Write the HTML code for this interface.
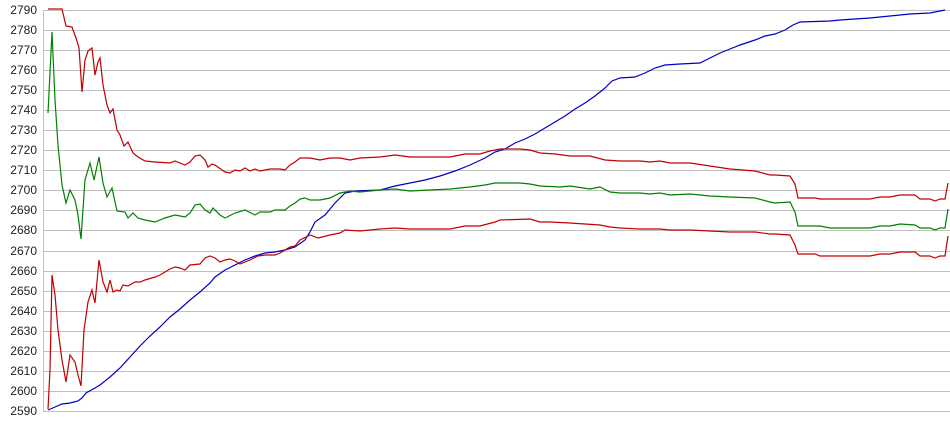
<!DOCTYPE html>
<html><head><style>body{margin:0;background:#fff}svg{display:block}</style></head><body>
<svg width="950" height="435" xmlns="http://www.w3.org/2000/svg" font-family="Liberation Sans, sans-serif" font-size="12">
<g stroke="#c0c0c0" stroke-width="1">
<line x1="43" y1="10.5" x2="950" y2="10.5"/><line x1="43" y1="30.5" x2="950" y2="30.5"/><line x1="43" y1="50.5" x2="950" y2="50.5"/><line x1="43" y1="70.5" x2="950" y2="70.5"/><line x1="43" y1="90.5" x2="950" y2="90.5"/><line x1="43" y1="110.5" x2="950" y2="110.5"/><line x1="43" y1="130.5" x2="950" y2="130.5"/><line x1="43" y1="150.5" x2="950" y2="150.5"/><line x1="43" y1="170.5" x2="950" y2="170.5"/><line x1="43" y1="190.5" x2="950" y2="190.5"/><line x1="43" y1="210.5" x2="950" y2="210.5"/><line x1="43" y1="230.5" x2="950" y2="230.5"/><line x1="43" y1="251.5" x2="950" y2="251.5"/><line x1="43" y1="271.5" x2="950" y2="271.5"/><line x1="43" y1="291.5" x2="950" y2="291.5"/><line x1="43" y1="311.5" x2="950" y2="311.5"/><line x1="43" y1="331.5" x2="950" y2="331.5"/><line x1="43" y1="351.5" x2="950" y2="351.5"/><line x1="43" y1="371.5" x2="950" y2="371.5"/><line x1="43" y1="391.5" x2="950" y2="391.5"/><line x1="43" y1="411.5" x2="950" y2="411.5"/>
<line x1="43.5" y1="10" x2="43.5" y2="412"/>
</g>
<g fill="#222" text-anchor="end">
<text x="37" y="14">2790</text><text x="37" y="34">2780</text><text x="37" y="54">2770</text><text x="37" y="74">2760</text><text x="37" y="94">2750</text><text x="37" y="114">2740</text><text x="37" y="134">2730</text><text x="37" y="154">2720</text><text x="37" y="174">2710</text><text x="37" y="194">2700</text><text x="37" y="214">2690</text><text x="37" y="234">2680</text><text x="37" y="255">2670</text><text x="37" y="275">2660</text><text x="37" y="295">2650</text><text x="37" y="315">2640</text><text x="37" y="335">2630</text><text x="37" y="355">2620</text><text x="37" y="375">2610</text><text x="37" y="395">2600</text><text x="37" y="415">2590</text>
</g>
<g fill="none" stroke-width="1.2">
<polyline stroke="#0000c0" points="48,410 55,407 62,404 70,403 78,401 82,398 86,393 95,388 100,385 110,377 120,368 130,357 140,346 150,336 160,327 170,317 180,309 190,300 200,292 210,283 215,277 225,270 235,265 245,260 255,256 265,253 275,252 285,250 295,247 305,240 310,232 315,222 325,215 335,203 345,193 355,191 380,190 395,186 410,183 425,180 440,176 455,171 470,165 485,158 495,152 505,149 515,143 525,139 535,134 545,128 555,122 565,116 575,109 585,103 595,96 605,88 612,81 620,78 635,77 645,73 655,68 665,65 680,64 700,63 710,58 720,53 730,49 740,45 755,40 765,36 775,34 785,30 793,25 800,22 830,21 840,20 870,18 890,16 910,14 930,13 945,10"/>
<polyline stroke="#008000" points="48,113 52,32 55,100 58,145 62,185 66,203 70,190 75,200 78,215 81,239 85,180 90,163 94,180 99,157 103,183 107,197 112,188 117,211 125,212 128,218 133,213 138,218 145,220 155,222 165,218 175,215 185,217 190,213 195,205 200,204 205,210 210,213 213,208 220,215 225,218 235,213 245,210 255,215 260,212 270,212 275,210 285,210 290,206 295,203 300,199 305,198 310,200 320,200 330,198 340,193 350,191 360,192 380,190 395,189 410,191 430,190 450,189 470,187 485,185 495,183 520,183 530,184 540,186 560,187 570,186 590,189 600,187 610,192 620,193 640,193 650,194 660,193 670,195 690,194 710,196 730,197 755,198 770,202 775,203 790,202 795,212 798,226 820,226 830,228 870,228 880,226 890,226 900,224 915,225 920,228 930,228 935,230 940,228 945,228 948,209"/>
<polyline stroke="#c00000" points="48,9 62,9 66,26 72,27 76,38 79,48 82,92 85,60 88,51 92,48 95,75 98,62 100,58 103,85 107,105 110,113 113,109 117,130 120,135 124,146 128,142 133,153 138,157 145,161 155,162 170,163 175,161 185,165 190,162 195,156 200,155 205,160 208,167 212,164 215,165 225,172 230,173 235,170 240,171 245,168 250,171 255,169 260,171 270,169 280,169 285,170 290,165 295,162 300,158 310,158 320,160 330,158 340,158 350,160 360,158 380,157 395,155 410,157 430,157 450,157 465,154 480,154 490,151 500,149 520,149 530,150 540,153 555,154 570,156 590,156 605,160 620,161 640,161 650,162 660,161 670,163 690,163 710,166 730,169 755,171 770,175 775,175 790,176 795,184 798,198 815,198 820,199 870,199 880,197 890,197 900,195 915,195 920,199 930,199 935,201 940,199 945,199 948,183"/>
<polyline stroke="#c00000" points="48,409 50,370 52,275 55,295 58,330 62,360 66,382 70,355 75,362 78,375 81,386 84,330 88,302 92,290 95,303 99,260 103,282 107,292 110,280 113,292 117,290 120,291 123,285 128,286 135,282 140,282 145,280 155,277 160,275 170,269 175,267 180,268 185,270 190,265 200,264 205,258 210,256 215,258 220,262 225,260 230,259 235,261 240,264 250,260 258,256 265,255 275,255 280,253 285,250 290,247 295,246 300,240 310,235 318,238 330,235 340,233 345,230 360,231 380,229 395,228 410,229 430,229 450,229 465,226 480,226 495,222 500,220 530,219 540,222 550,222 570,223 600,225 610,227 620,228 640,229 660,229 670,230 690,230 710,231 730,232 755,232 770,234 775,234 790,235 795,245 798,254 815,254 820,256 870,256 880,254 890,254 900,252 915,252 920,256 930,256 935,258 940,256 945,256 948,236"/>
</g>
</svg>
</body></html>
